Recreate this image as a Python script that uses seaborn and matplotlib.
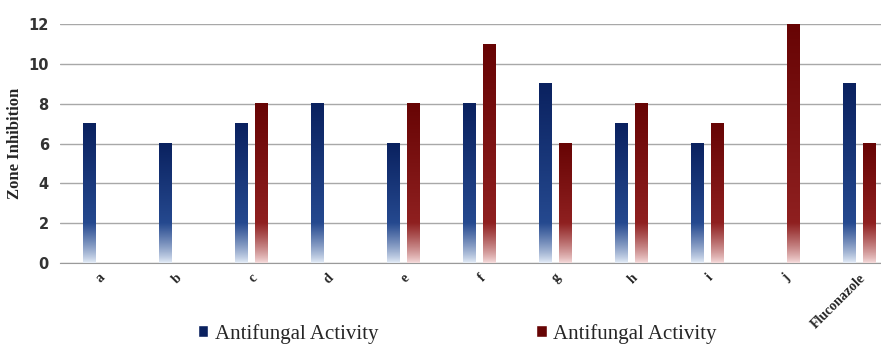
import numpy as np
import pandas as pd
import matplotlib
matplotlib.use("Agg")
import matplotlib.pyplot as plt
import seaborn as sns
from matplotlib.patches import Patch
from matplotlib.colors import to_rgb

# Veriler
compounds = ['a', 'b', 'c', 'd', 'e', 'f', 'g', 'h', 'i', 'j', 'Fluconazole']
series1 = [7, 6, 7, 8, 6, 8, 9, 7, 6, np.nan, 9]
series2 = [np.nan, np.nan, 8, np.nan, 8, 11, 6, 8, 7, 12, 6]
series_names = ['Antifungal Activity (1)', 'Antifungal Activity (2)']

df = pd.DataFrame({
    'compound': compounds * 2,
    'zone': series1 + series2,
    'series': [series_names[0]] * len(compounds) + [series_names[1]] * len(compounds),
})

# renkler: ust koyu, orta, alt acik
blue = ['#0a215f', '#25498f', '#e6eef8']
red = ['#670404', '#8f2020', '#f6dcdc']

sns.set_style('white')
fig = plt.figure(figsize=(8.81, 3.45), dpi=100)
ax = fig.add_axes([0.068, 0.238, 0.932, 0.692])

sns.barplot(data=df, x='compound', y='zone', hue='series', order=compounds,
            hue_order=series_names, palette=[blue[0], red[0]], width=0.53,
            gap=0.4, legend=False, ax=ax)


def gradient(cols, h, n=200):
    top, mid, bot = [np.array(to_rgb(c)) for c in cols]
    y = np.linspace(0, h, n)
    out = np.zeros((n, 1, 3))
    for k, yy in enumerate(y):
        if yy < 2:
            t = yy / 2
            t = t ** 0.8
            out[k, 0] = bot + (mid - bot) * t
        else:
            t = (yy - 2) / max(h - 2, 1e-6)
            out[k, 0] = mid + (top - mid) * t
    return out


# cubuklara gradyan
for cont, cols in zip(ax.containers, [blue, red]):
    for bar in cont:
        h = bar.get_height()
        if not np.isfinite(h) or h <= 0:
            continue
        x0 = bar.get_x()
        w = bar.get_width()
        ax.imshow(gradient(cols, h), extent=[x0, x0 + w, 0, h], origin='lower',
                  aspect='auto', zorder=3, clip_on=False, interpolation='bilinear')
        bar.set_visible(False)

ax.set_xlim(-0.51, 10.29)
ax.set_ylim(0, 12)
ax.set_yticks(range(0, 13, 2))
ax.yaxis.grid(True, color='#a8a8a8', linewidth=1)
ax.set_axisbelow(True)
for s in ['top', 'right', 'left']:
    ax.spines[s].set_visible(False)
ax.spines['bottom'].set_color('#9a9a9a')
ax.tick_params(axis='both', length=0)
ax.tick_params(axis='y', labelsize=10.5, pad=8)
for lab in ax.get_yticklabels():
    lab.set_fontweight('bold')
    lab.set_color('#333333')

ax.set_xticks(range(len(compounds)))
ax.set_xticklabels(compounds, rotation=45, ha='right', rotation_mode='anchor',
                   family='Liberation Serif', fontweight='bold', fontsize=10)
ax.tick_params(axis='x', pad=6)
ax.set_xlabel('')
ax.set_ylabel('Zone Inhibition', family='Liberation Serif', fontweight='bold',
              fontsize=12, labelpad=4)

handles = [Patch(facecolor=blue[0]), Patch(facecolor=red[0])]
fig.legend(handles, ['Antifungal Activity', 'Antifungal Activity'], ncol=2,
           loc='lower center', bbox_to_anchor=(0.519, -0.05), frameon=False,
           prop={'family': 'Liberation Serif', 'size': 15}, columnspacing=7.6,
           handlelength=0.5, handleheight=0.5, handletextpad=0.3)

fig.savefig('out.png', dpi=100)
